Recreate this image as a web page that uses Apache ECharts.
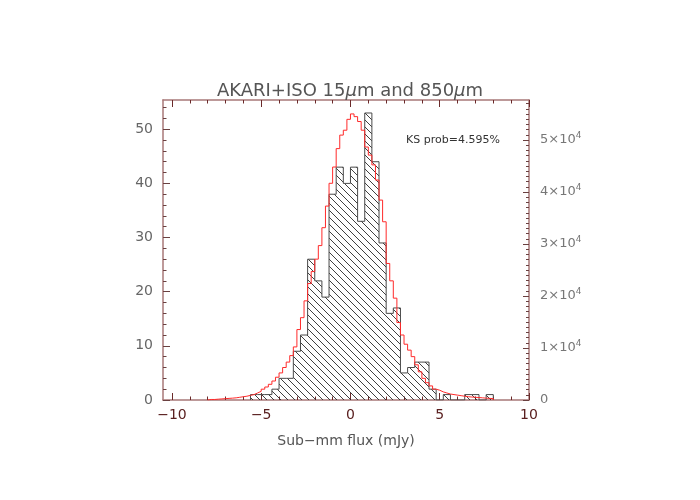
<!DOCTYPE html>
<html>
<head>
<meta charset="utf-8">
<script src="https://cdn.jsdelivr.net/npm/echarts@6/dist/echarts.min.js"></script>
<style>
html, body { margin: 0; background: #fff; }
#chart { width: 700px; height: 500px; }
</style>
</head>
<body>
<div id="chart"></div>
<script>
// AKARI+ISO 15um sources: sub-mm flux histogram (left axis, counts)
const blackStart = -5.6;
const blackWidth = 0.4;
const blackCounts = [1, 1, 1, 2, 4, 4, 9, 12, 26, 22, 19, 38, 43, 40, 43, 33, 53, 44, 29, 16, 17,
  5, 6, 7, 7, 2, 0, 1, 0, 0, 1, 1, 0, 1];

// random positions histogram (right axis)
const redStart = -8.0;
const redWidth = 0.2;
const redCounts = [100, 100, 160, 210, 260, 310, 360, 420, 520, 630, 730, 890, 1040, 1350, 1670, 2080,
  2500, 3020, 3650, 4380, 5210, 6250, 7290, 8540, 10210, 13550, 15840, 19070, 22400, 24700,
  27090, 29700, 33140, 37300, 41680, 44810, 48350, 50950, 51890, 53980, 55020, 54500, 53560,
  51890, 48660, 47100, 45220, 42310, 38450, 34280, 26260, 22920, 19590, 14900, 12500, 10730,
  9590, 8340, 6770, 5420, 4170, 3330, 2710, 2080, 1880, 1560, 1350, 1150, 1040, 940, 830, 730,
  630, 570, 520, 470, 420, 360, 310, 260];

const xMajor = [-10, -5, 0, 5, 10];
const leftMajor = [0, 10, 20, 30, 40, 50];
const rightMajor = [0, 10000, 20000, 30000, 40000, 50000];

const xMin = -10.5, xMax = 10;
const leftMax = 55.4, rightMax = 57700;

function range(a, b, step) {
  const out = [];
  for (let v = a; v <= b + 1e-9; v += step) out.push(Math.round(v * 1000) / 1000);
  return out;
}
const xMinor = range(-10, 10, 1);
const leftMinor = range(0, 54, 2);
const rightMinor = range(0, 57000, 1000);

function steps(start, width, counts) {
  const pts = [[start, 0]];
  counts.forEach((c, i) => pts.push([+(start + i * width).toFixed(3), c]));
  pts.push([+(start + counts.length * width).toFixed(3), 0]);
  return pts;
}

// diagonal hatch pattern for the black histogram
function hatch() {
  const s = 7;
  const c = document.createElement('canvas');
  c.width = s; c.height = s;
  const g = c.getContext('2d');
  g.strokeStyle = '#2a2a2a';
  g.lineWidth = 0.9;
  g.beginPath();
  g.moveTo(-1, -1); g.lineTo(s + 1, s + 1);
  g.moveTo(-1, s - 1); g.lineTo(1, s + 1);
  g.moveTo(s - 1, -1); g.lineTo(s + 1, 1);
  g.stroke();
  return c;
}

const boxColor = '#a87878';
const font = 'DejaVu Sans';

function xAxis(pos, ticks, len, withLabels) {
  return {
    type: 'value', min: xMin, max: xMax, position: pos, offset: 0,
    splitLine: { show: false },
    axisLine: { show: withLabels !== null, onZero: false, lineStyle: { color: boxColor, width: 1.5 } },
    axisTick: { inside: true, length: len, customValues: ticks, lineStyle: { color: '#6a2a2a' } },
    axisLabel: withLabels ? {
      customValues: xMajor, color: '#5a2020', fontSize: 14, fontFamily: font, margin: 8,
      formatter: v => String(v).replace('-', '\u2212')
    } : { show: false },
    name: withLabels ? 'Sub\u2212mm flux (mJy)' : '',
    nameLocation: 'middle', nameGap: 34,
    nameTextStyle: { color: '#555', fontSize: 14, fontFamily: font }
  };
}

function yAxis(pos, max, ticks, len, labels) {
  return {
    type: 'value', min: 0, max: max, position: pos, offset: 0,
    splitLine: { show: false },
    axisLine: { show: labels !== null, onZero: false, lineStyle: { color: boxColor, width: 1.5 } },
    axisTick: { inside: true, length: len, customValues: ticks, lineStyle: { color: '#6a4040' } },
    axisLabel: labels || { show: false }
  };
}

const chart = echarts.init(document.getElementById('chart'));
chart.setOption({
  animation: false,
  backgroundColor: '#fff',
  title: {
    text: 'AKARI+ISO 15{mu|\u03bc}m and 850{mu|\u03bc}m',
    left: 'center', top: 77,
    textStyle: {
      color: '#555', fontSize: 18, fontWeight: 'normal', fontFamily: font,
      rich: { mu: { fontSize: 18, fontStyle: 'italic', color: '#555', fontFamily: font } }
    }
  },
  grid: { left: 163, right: 171, top: 100, bottom: 100 },
  xAxis: [
    xAxis('bottom', xMajor, 7, true),
    xAxis('bottom', xMinor, 3.5, null),
    xAxis('top', xMajor, 7, false),
    xAxis('top', xMinor, 3.5, null)
  ],
  yAxis: [
    yAxis('left', leftMax, leftMajor, 7, {
      customValues: leftMajor, color: '#666', fontSize: 14, fontFamily: font, margin: 10
    }),
    yAxis('left', leftMax, leftMinor, 3.5, null),
    yAxis('right', rightMax, rightMajor, 6, {
      customValues: rightMajor, color: '#777', fontSize: 13, fontFamily: font, margin: 11,
      formatter: v => v === 0 ? '0' : (v / 10000) + '\u00d710{sup|4}',
      rich: { sup: { fontSize: 9, color: '#777', fontFamily: font, verticalAlign: 'bottom', padding: [0, 0, 9, 0] } }
    }),
    yAxis('right', rightMax, rightMinor, 3, null)
  ],
  graphic: [{
    type: 'text', left: 406, top: 135,
    style: { text: 'KS prob=4.595%', fill: '#333', fontSize: 11, fontFamily: font }
  }],
  series: [
    {
      type: 'line', xAxisIndex: 0, yAxisIndex: 0, step: 'end', symbol: 'none',
      data: steps(blackStart, blackWidth, blackCounts),
      lineStyle: { color: '#4a4a4a', width: 1 },
      areaStyle: { color: { image: hatch(), repeat: 'repeat' }, opacity: 1 },
      z: 2
    },
    {
      type: 'line', xAxisIndex: 0, yAxisIndex: 2, step: 'end', symbol: 'none',
      data: steps(redStart, redWidth, redCounts),
      lineStyle: { color: '#ff2a2a', width: 1 },
      z: 3
    }
  ]
});
</script>
</body>
</html>
